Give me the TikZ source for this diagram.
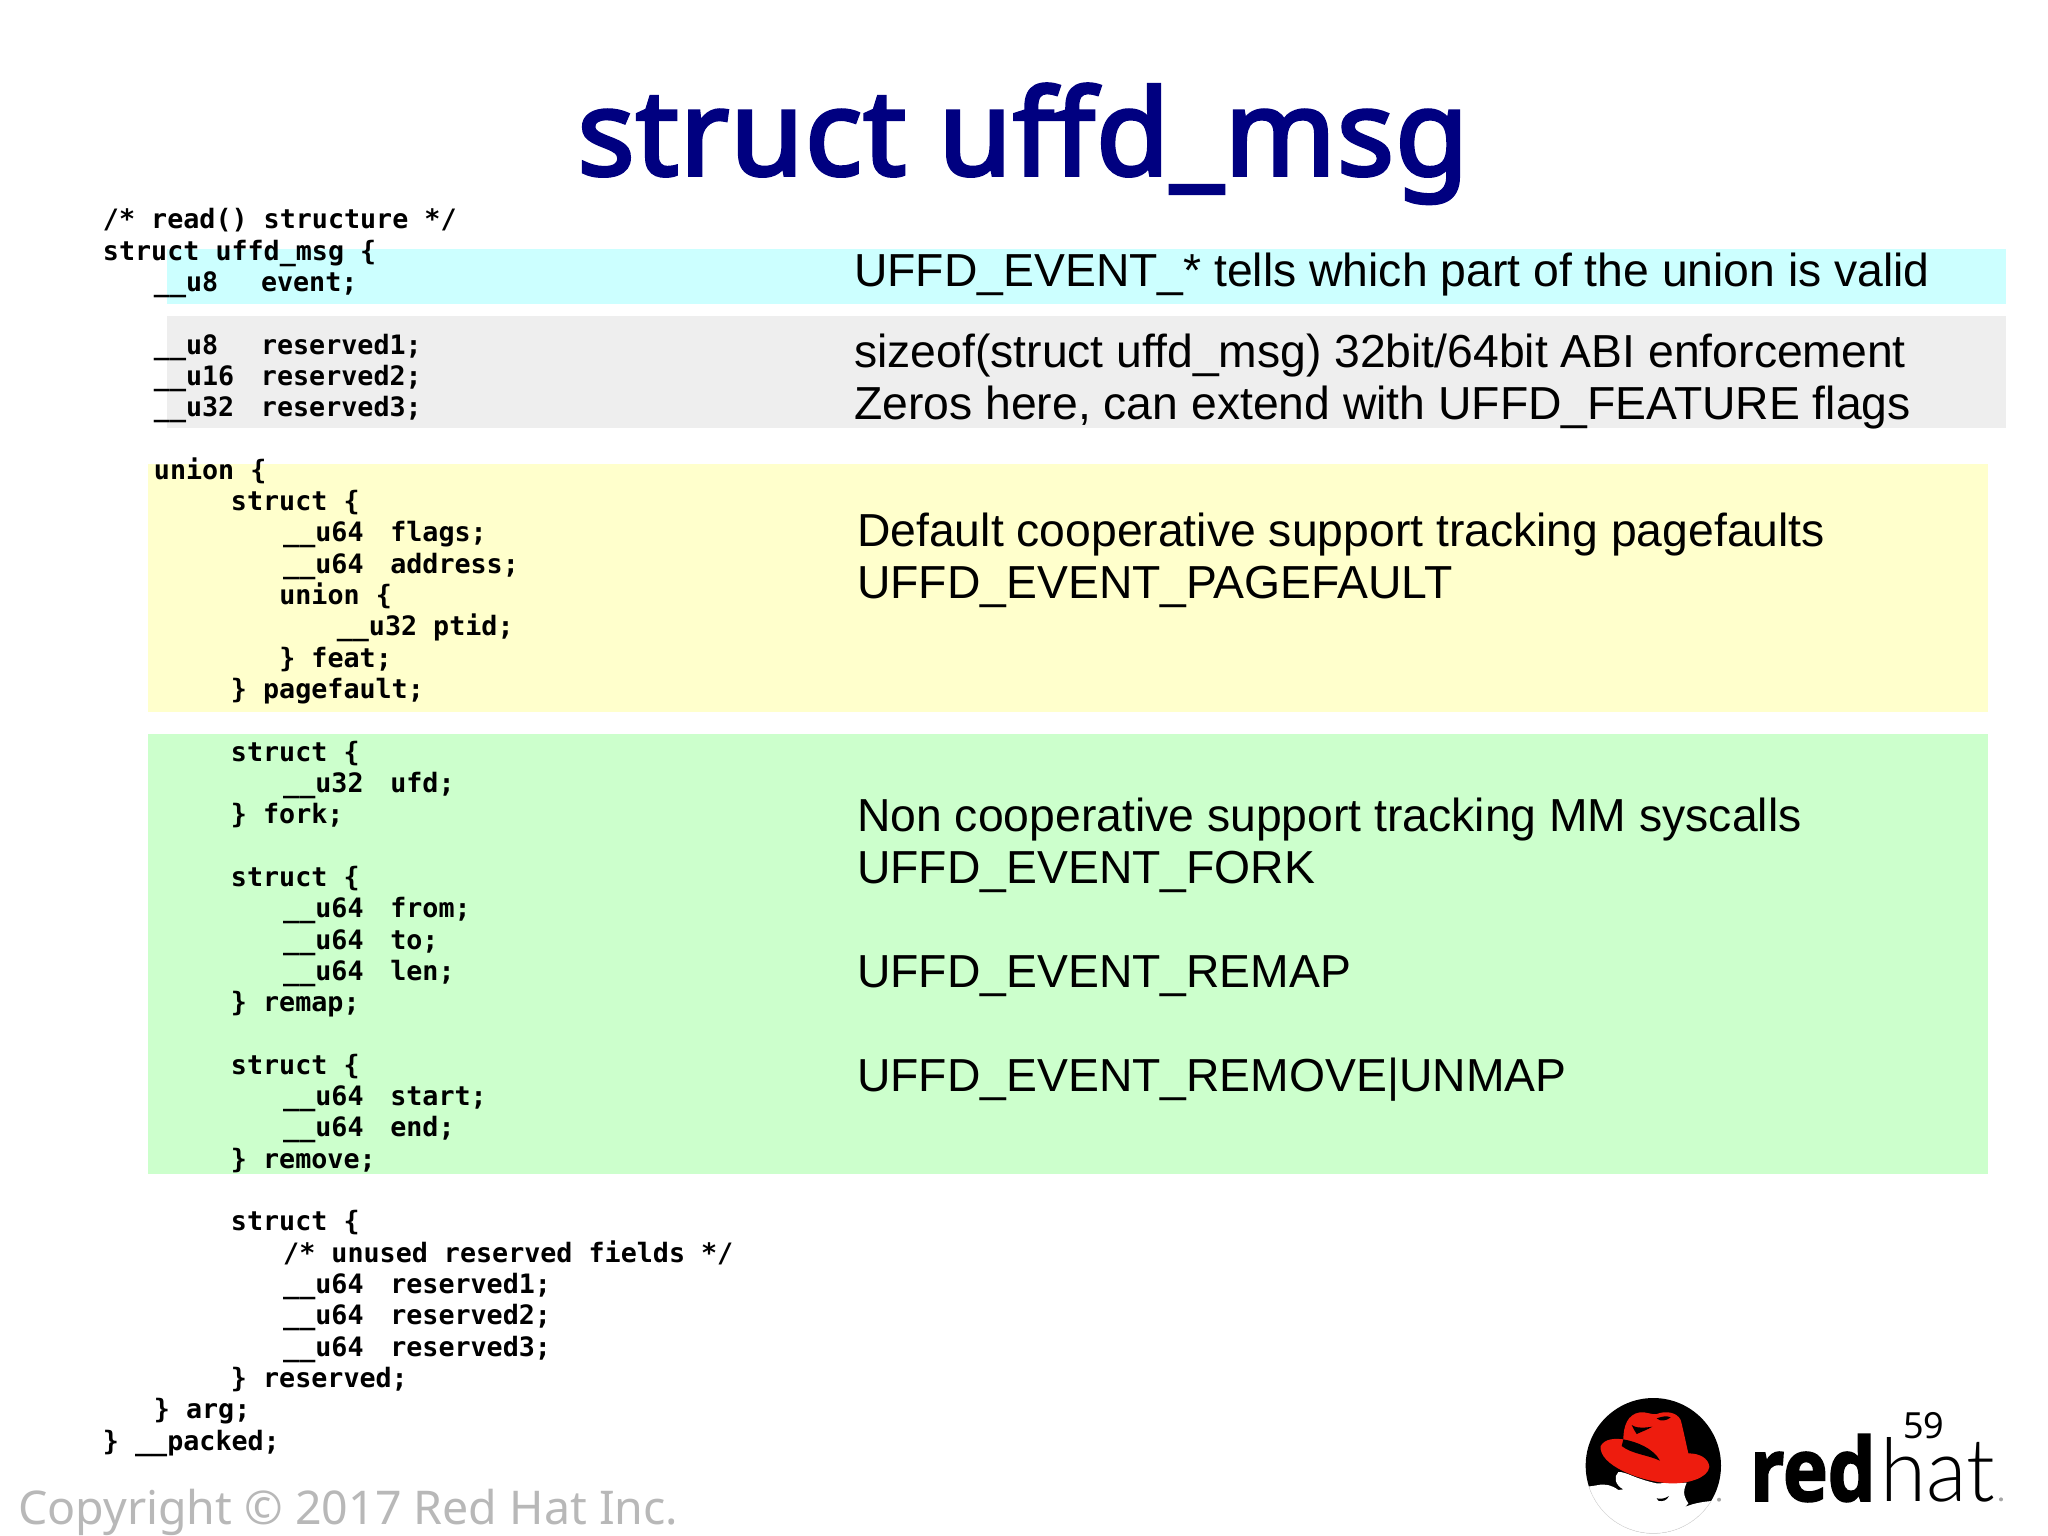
\documentclass[tikz,border=0pt]{standalone}
\usepackage{fontspec}
\setmainfont{Liberation Sans}
\newfontfamily\notofont{Noto Sans}
\newfontfamily\titlefont{Noto Sans}[FakeBold=3,LetterSpace=1]
\newfontfamily\codefont{DejaVu Sans Mono}[BoldFont={DejaVu Sans Mono Bold}]
\newfontfamily\redfont{Open Sans}[BoldFeatures={FakeBold=2,FakeStretch=0.86}]
\newfontfamily\hatfont{Lato Light}[FakeStretch=0.95]
\definecolor{bandcyan}{HTML}{CCFFFF}
\definecolor{bandgray}{HTML}{EEEEEE}
\definecolor{bandyellow}{HTML}{FFFFCC}
\definecolor{bandgreen}{HTML}{CCFFCC}
\definecolor{titleblue}{HTML}{000080}
\definecolor{hatred}{HTML}{EE1C0E}
\tikzset{
  codeline/.style={anchor=base west,inner sep=0pt,font=\codefont\bfseries\fontsize{26.7}{30}\selectfont,text=black},
  bodyline/.style={anchor=base west,inner sep=0pt,font=\fontsize{46.3}{52}\selectfont,text=black},
  band/.style={draw=none}
}
% name, x, line number, text
\newcommand{\cl}[4]{\node[codeline] (#1) at ({(#2-0.3)*1.30612},{(175.2+23.975*#3)*1.30612}) {#4};}
\newcommand{\fld}[2]{\makebox[107.1pt][l]{#1}#2}
\begin{document}
\begin{tikzpicture}[x=1pt,y=-1pt]
\useasboundingbox (0,0) rectangle (2048,1535);
\fill[white] (0,0) rectangle (2048,1535);
\fill[bandcyan,band] (167,249) rectangle (2006,304);
\fill[bandgray,band] (167,316) rectangle (2006,428);
\fill[bandyellow,band] (148,464) rectangle (1988,712);
\fill[bandgreen,band] (148,734) rectangle (1988,1174);

\node[anchor=base,inner sep=0pt,text=titleblue,font=\titlefont\fontsize{119}{130}\selectfont] (title) at (1023,175) {struct uffd\_msg};

\cl{c0}{79}{0}{/* read() structure */}
\cl{c1}{79}{1}{struct uffd\_msg \{}
\cl{c2}{118}{2}{\fld{\_\_u8}{event;}}
\cl{c4}{118}{4}{\fld{\_\_u8}{reserved1;}}
\cl{c5}{118}{5}{\fld{\_\_u16}{reserved2;}}
\cl{c6}{118}{6}{\fld{\_\_u32}{reserved3;}}
\cl{c8}{118}{8}{union \{}
\cl{c9}{177}{9}{struct \{}
\cl{c10}{217}{10}{\fld{\_\_u64}{flags;}}
\cl{c11}{217}{11}{\fld{\_\_u64}{address;}}
\cl{c12}{214}{12}{union \{}
\cl{c13}{258}{13}{\_\_u32 ptid;}
\cl{c14}{214}{14}{\} feat;}
\cl{c15}{177}{15}{\} pagefault;}
\cl{c17}{177}{17}{struct \{}
\cl{c18}{217}{18}{\fld{\_\_u32}{ufd;}}
\cl{c19}{177}{19}{\} fork;}
\cl{c21}{177}{21}{struct \{}
\cl{c22}{217}{22}{\fld{\_\_u64}{from;}}
\cl{c23}{217}{23}{\fld{\_\_u64}{to;}}
\cl{c24}{217}{24}{\fld{\_\_u64}{len;}}
\cl{c25}{177}{25}{\} remap;}
\cl{c27}{177}{27}{struct \{}
\cl{c28}{217}{28}{\fld{\_\_u64}{start;}}
\cl{c29}{217}{29}{\fld{\_\_u64}{end;}}
\cl{c30}{177}{30}{\} remove;}
\cl{c32}{177}{32}{struct \{}
\cl{c33}{217}{33}{/* unused reserved fields */}
\cl{c34}{217}{34}{\fld{\_\_u64}{reserved1;}}
\cl{c35}{217}{35}{\fld{\_\_u64}{reserved2;}}
\cl{c36}{217}{36}{\fld{\_\_u64}{reserved3;}}
\cl{c37}{177}{37}{\} reserved;}
\cl{c38}{118}{38}{\} arg;}
\cl{c39}{79}{39}{\} \_\_packed;}

\node[bodyline] (b1) at (854,286) {UFFD\_EVENT\_* tells which part of the union is valid};
\node[bodyline] (b2) at (854,367) {sizeof(struct uffd\_msg) 32bit/64bit ABI enforcement};
\node[bodyline] (b3) at (854,419) {Zeros here, can extend with UFFD\_FEATURE flags};
\node[bodyline] (b4) at (857,546) {Default cooperative support tracking pagefaults};
\node[bodyline] (b5) at (857,598) {UFFD\_EVENT\_PAGEFAULT};
\node[bodyline] (b6) at (857,831) {Non cooperative support tracking MM syscalls};
\node[bodyline] (b7) at (857,883) {UFFD\_EVENT\_FORK};
\node[bodyline] (b8) at (857,987) {UFFD\_EVENT\_REMAP};
\node[bodyline] (b9) at (857,1091) {UFFD\_EVENT\_REMOVE|UNMAP};

\node[anchor=base west,inner sep=0pt,text=black!28,font=\notofont\fontsize{46.5}{50}\selectfont] (copy) at (18,1524) {Copyright © 2017 Red Hat Inc.};

% logo, zoom coordinates
\begin{scope}[shift={(1540,1370)},x=0.33333pt,y=-0.33333pt]
\fill[black] (340,287) circle[radius=203];
\begin{scope}
\clip (340,287) circle[radius=203];
\fill[white] (130,352) -- (170,346) .. controls (195,340) and (215,345) .. (235,360) -- (250,358)
  .. controls (225,345) and (220,320) .. (235,306) .. controls (260,305) and (280,325) .. (350,340)
  -- (440,338) .. controls (425,370) and (435,385) .. (445,400) .. controls (430,420) and (410,425) .. (392,442)
  .. controls (420,410) and (460,398) .. (515,393) -- (560,420) -- (560,520) -- (130,520) -- cycle;
\end{scope}
\begin{scope}
\clip (130,356) rectangle (510,520);
\draw[black!10,line width=0.5pt] (340,287) circle[radius=203];
\end{scope}
\fill[black] (350,385) .. controls (365,388) and (375,385) .. (387,378) .. controls (380,392) and (368,395) .. (355,392) -- cycle;
\fill[hatred] (182,228) .. controls (195,205) and (225,205) .. (250,208)
  .. controls (250,170) and (262,132) .. (300,127) .. controls (320,125) and (335,135) .. (350,132)
  .. controls (375,122) and (410,125) .. (422,150) .. controls (430,180) and (438,220) .. (445,250)
  .. controls (480,250) and (505,265) .. (508,290) .. controls (505,325) and (440,342) .. (390,340)
  .. controls (300,335) and (175,285) .. (182,228) -- cycle;
\fill[black] (250,208) .. controls (290,215) and (340,235) .. (360,272)
  .. controls (325,255) and (275,252) .. (245,228) -- cycle;
\fill[black] (275,165) .. controls (295,178) and (320,172) .. (337,170) .. controls (320,180) and (305,185) .. (290,192) .. controls (285,182) and (278,175) .. (275,165) -- cycle;
\fill[black] (350,145) .. controls (365,140) and (380,136) .. (392,142) .. controls (380,152) and (362,156) .. (350,145) -- cycle;
\fill[black!35] (537,389) circle[radius=6];
\fill[black!35] (1383,388) circle[radius=6];
\end{scope}
\node[anchor=base west,inner sep=0pt,font=\redfont\bfseries\fontsize{88}{100}\selectfont] (logored) at (1750,1501) {red};
\node[anchor=base west,inner sep=0pt,font=\hatfont\fontsize{88}{100}\selectfont] (logohat) at (1880,1501) {hat};
\node[anchor=base west,inner sep=0pt,font=\notofont\fontsize{36}{40}\selectfont] (pagenum) at (1903,1438) {59};
\end{tikzpicture}
\end{document}
